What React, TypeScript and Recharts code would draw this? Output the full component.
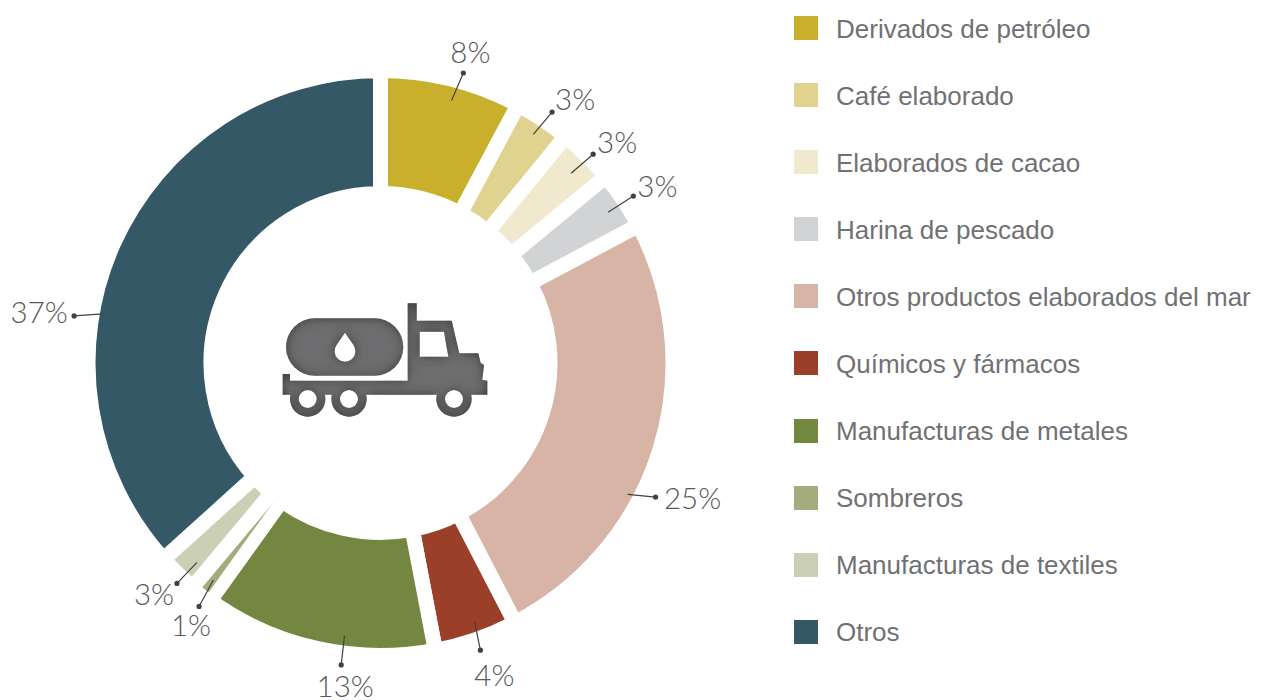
import React from "react"
import { PieChart, Pie, Cell, Legend } from "recharts"

const categories = [
  "Derivados de petróleo",
  "Café elaborado",
  "Elaborados de cacao",
  "Harina de pescado",
  "Otros productos elaborados del mar",
  "Químicos y fármacos",
  "Manufacturas de metales",
  "Sombreros",
  "Manufacturas de textiles",
  "Otros",
]
// slice sizes as measured off the ring, the printed labels are rounded differently
const shares = [7.8, 3.1, 3.1, 3.2, 25.2, 4.6, 12.9, 1.2, 2.2, 36.7]
const percentLabels = ["8%", "3%", "3%", "3%", "25%", "4%", "13%", "1%", "3%", "37%"]
const colors = ["#c8b02c", "#e0d28f", "#f1e9cd", "#d1d3d4", "#d8b4a6", "#9b3f28", "#748740", "#a4ab7d", "#cbd0b5", "#345866"]

// leader line per slice: degrees off the slice middle and radius at each end, then text offset from the dot
const startTurn = [1.1, 0.1, 0.3, 0.3, 10.7, -0.9, -4.9, -0.2, -1.3, -13.9]
const endTurn = [1.9, 0.7, 0.7, 0.4, 8.7, -0.1, -5, -1.1, -1.2, -15.2]
const startRadius = [272, 275, 269, 273, 280, 275.5, 275, 274, 271, 282]
const endRadius = [301.6, 304, 298, 303, 306, 304, 304.5, 303.6, 300, 310]
const textDx = [7, 23, 24, 24, 37, 14, 4, -8, -23, -35]
const textDy = [-21, -14, -13, -11, 0, 24, 21, 18, 10, -4]

const data = categories.map((name, i) => ({ name, value: shares[i] }))

const RADIAN = Math.PI / 180

function renderLabel(props: any) {
  const { cx, cy, midAngle, index } = props
  const a1 = (midAngle - startTurn[index]) * RADIAN
  const a2 = (midAngle - endTurn[index]) * RADIAN
  const x1 = cx + startRadius[index] * Math.cos(a1)
  const y1 = cy - startRadius[index] * Math.sin(a1)
  const x2 = cx + endRadius[index] * Math.cos(a2)
  const y2 = cy - endRadius[index] * Math.sin(a2)
  return (
    <g key={index}>
      <line x1={x1} y1={y1} x2={x2} y2={y2} stroke="#414042" strokeWidth={1.2} />
      <circle cx={x2} cy={y2} r={2.6} fill="#414042" />
      <text
        x={x2 + textDx[index]}
        y={y2 + textDy[index]}
        textAnchor="middle"
        dominantBaseline="central"
        fontFamily="Lato"
        fontWeight={300}
        fontSize={29.5}
        fill="#58595b"
      >
        {percentLabels[index]}
      </text>
    </g>
  )
}

function LegendList() {
  return (
    <div>
      {categories.map((name, i) => (
        <div key={name} style={{ display: "flex", alignItems: "center", height: 24, marginBottom: 43.1 }}>
          <div style={{ width: 24, height: 24, background: colors[i], marginRight: 18 }} />
          <span
            style={{
              fontFamily: "'Liberation Sans'",
              fontSize: 26,
              color: "#707174",
              whiteSpace: "nowrap",
              position: "relative",
              top: 1,
            }}
          >
            {name}
          </span>
        </div>
      ))}
    </div>
  )
}

function TruckIcon() {
  return (
    <svg width={1261} height={700} style={{ position: "absolute", left: 0, top: 0, pointerEvents: "none" }}>
      <defs>
        <filter id="innerShade" x="-5%" y="-5%" width="110%" height="110%">
          <feGaussianBlur in="SourceAlpha" stdDeviation="6" result="blur" />
          <feComposite in="SourceAlpha" in2="blur" operator="out" result="edge" />
          <feFlood floodColor="#222224" floodOpacity="0.95" />
          <feComposite in2="edge" operator="in" result="shade" />
          <feMerge>
            <feMergeNode in="SourceGraphic" />
            <feMergeNode in="shade" />
          </feMerge>
        </filter>
        <mask id="truckMask" maskUnits="userSpaceOnUse" x="270" y="290" width="230" height="140">
          <rect x="286" y="318.3" width="117.3" height="57.4" rx="28.7" fill="#fff" />
          <path d="M345 332.7 L353.5 345 A10.5 10.5 0 1 1 336.5 345 Z" fill="#000" />
          <polygon
            points="282.7,374 290,374 290,380.7 407.7,380.7 407.7,303.3 416.7,303.3 416.7,320.7 451.7,320.7 459.3,353.3 478.3,353.3 480.7,363 484,365 482.3,380 487.3,380.7 487.3,394.7 282.7,394.7"
            fill="#fff"
          />
          <polygon points="419.7,331.7 444,331.7 448.3,356.7 419.7,356.7" fill="#000" />
          {[307.7, 349, 454].map((x) => (
            <g key={x}>
              <circle cx={x} cy={399} r={17.7} fill="#fff" />
              <circle cx={x} cy={399} r={9} fill="#000" />
            </g>
          ))}
        </mask>
      </defs>
      <g filter="url(#innerShade)">
        <rect x="270" y="290" width="230" height="140" fill="#6e6e70" mask="url(#truckMask)" />
      </g>
    </svg>
  )
}

export default function App() {
  return (
    <div style={{ position: "absolute", left: 0, top: 0, width: 1261, height: 700, background: "#fff" }}>
      <PieChart width={1261} height={700} margin={{ top: 0, right: 0, bottom: 0, left: 0 }}>
        <Pie
          data={data}
          dataKey="value"
          nameKey="name"
          cx={380.5}
          cy={363}
          innerRadius={169.5}
          outerRadius={292.5}
          startAngle={90}
          endAngle={-270}
          stroke="#ffffff"
          strokeWidth={15}
          label={renderLabel}
          labelLine={false}
          isAnimationActive={false}
        >
          {data.map((d, i) => (
            // the Sombreros wedge is so thin that the full gap would eat its tip
            <Cell key={d.name} fill={colors[i]} strokeWidth={d.name === "Sombreros" ? 12 : 15} />
          ))}
        </Pie>
        <Legend
          content={() => <LegendList />}
          wrapperStyle={{ position: "absolute", left: 794, top: 16, width: 460 }}
        />
      </PieChart>
      <TruckIcon />
    </div>
  )
}
